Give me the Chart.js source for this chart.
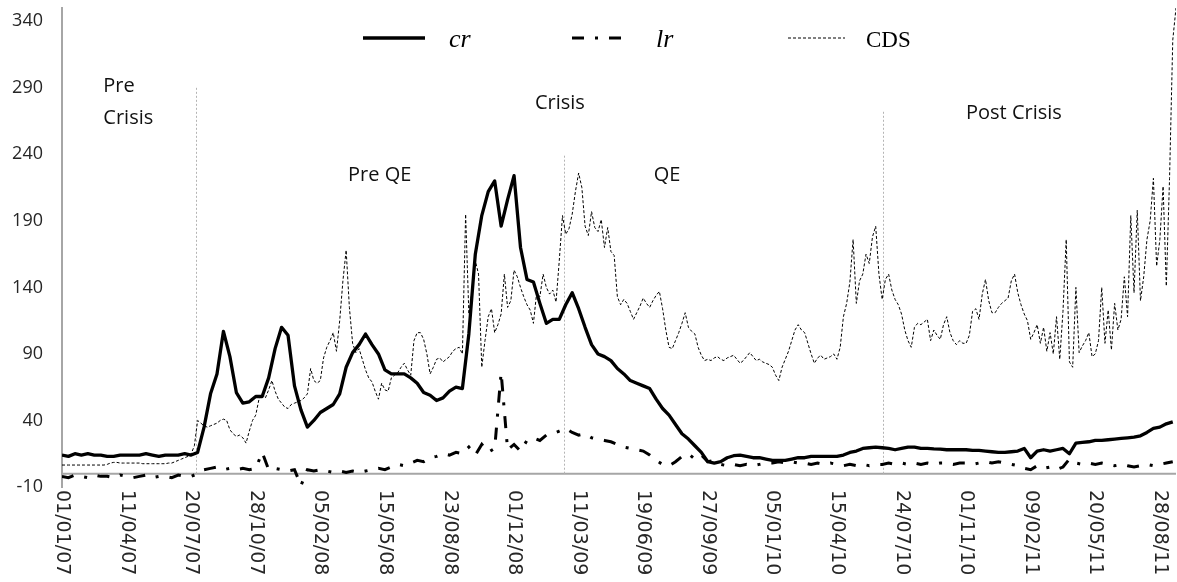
<!DOCTYPE html>
<html>
<head>
<meta charset="utf-8">
<script src="https://cdn.jsdelivr.net/npm/chart.js@4.4.0/dist/chart.umd.min.js"></script>
<style>
  body { margin: 0; background: #fff; }
  #wrap { width: 1177px; height: 582px; }
</style>
</head>
<body>
<div id="wrap"><canvas id="spreadChart" width="1177" height="582"></canvas></div>
<script>
// values, x = days after 01/01/07
const CR_STEP = 10;
const LR_STEP = 10;
const CDS_STEP = 5;

const crValues = [
  14,13,15,14,15,14,14,13,13,14,
  14,14,14,15,14,13,14,14,14,15,
  14,16,35,60,75,107,88,61,53,54,
  58,58,72,94,110,104,66,48,35,40,
  46,49,52,60,80,91,97,105,97,90,
  78,75,75,75,72,68,61,59,55,57,
  62,65,64,105,165,194,212,220,186,206,
  224,170,146,144,128,113,116,116,127,136,
  124,110,97,90,88,85,79,75,70,68,
  66,64,56,49,44,37,30,26,21,16,
  9,8,9,12,13.5,14,13,12,12,11,
  10,10,10,11,12,12,13,13,13,13,
  13,14,16,17,19,19.5,20,19.5,19,18,
  19,20,20,19,19,18.6,18.5,18,18,18,
  18,17.5,17.5,17,16.5,16,16,16.5,17,19,
  12,17,18,17,18,19,15,23,23.5,24,
  25,25,25.5,26,26.5,27,27.5,28.5,31,34,
  35,37.5,39
];

const lrValues = [
  -2,-3,-1,-2,-3,-1,-2,-2,-3,-1,
  -2,-3,-2,-1,-3,-2,-2,-3,-1,-2,
  -2,0,3,4,5,3,4,3,4,3,
  4,16,3,4,3,2,3,-9,3,2,
  3,2,1,2,1,2,1,2,3,4,
  3,5,7,6,8,10,9,12,13,15,
  14,16,15,20,14,22,16,19,76,18,
  22,17,25,27,25,29,30,32,34,31,
  29,30,27,26,25,24,22,20,19,18,
  17,14,10,7,6,9,13,15,11,14,
  9,10,7,6,7,6,7,6,7,8,
  8,9,8,9,8,8,7,8,7,8,
  7,6,7,6,7,6,7,7,8,7,
  8,7,8,7,8,7,8,8,7,8,
  8,7,8,9,8,9,8,7,6,4,
  3,6,4,5,3,5,11,8,7,8,
  7,8,7,6,7,6,5,6,7,6,
  7,8,9
];

const cdsValues = [
  6.5,6.5,6.5,6.5,6.5,6.5,6.5,6.5,6.5,6.5,6.5,6.5,6.5,6.5,7,8,8.5,8.5,8,8,
  8,8,8,8,8,7.5,7.5,7.5,7.5,7.5,7.5,7.5,7.5,8,8,9,10,11,12,13,
  15,21,40,38,36,35,36,37,38,40,41,40,33,30,28,29,27,23,32,40,
  44,56,60,57,63,70,62,56,53,50,49,52,53,54,55,57,60,79,70,68,
  70,87,95,100,106,92,115,145,168,125,98,91,94,86,78,72,69,62,56,68,
  63,62,72,74,76,80,83,78,74,100,106,106,101,90,75,80,86,87,84,86,
  88,92,94,95,90,195,120,137,160,150,80,100,118,124,106,112,120,150,125,130,
  153,148,140,133,127,123,113,136,133,150,140,135,138,129,160,194,180,184,195,212,
  226,215,186,179,197,185,182,191,170,185,167,164,133,127,131,128,122,116,121,126,
  132,128,125,130,134,137,124,108,95,94,100,106,113,121,110,107,105,95,89,85,
  86,85,87,88,86,85,87,88,89,86,83,85,88,91,88,85,86,84,83,82,
  80,74,70,80,86,92,100,108,112,108,106,98,90,83,87,89,86,87,88,90,
  86,95,118,128,144,176,128,145,150,165,158,178,186,150,131,146,150,138,131,127,
  120,108,100,95,110,113,112,114,116,100,108,104,101,112,118,106,100,97,100,98,
  98,104,122,124,116,135,146,130,121,121,125,128,130,132,145,150,136,127,120,115,
  101,106,112,98,110,92,106,90,118,86,122,176,84,80,140,91,96,100,106,88,
  90,100,140,98,123,93,128,108,116,148,118,194,136,198,130,148,176,190,222,156,
  176,216,141,222,326,350
];

const xTickLabels = [
  '01/01/07','11/04/07','20/07/07','28/10/07','05/02/08','15/05/08',
  '23/08/08','01/12/08','11/03/09','19/06/09','27/09/09','05/01/10',
  '15/04/10','24/07/10','01/11/10','09/02/11','20/05/11','28/08/11'
];
const yTickValues = [-10, 40, 90, 140, 190, 240, 290, 340];

// period split lines: day and top value
const periodBreakDays = [207, 777, 1271];
const periodBreakTops = [290, 239, 272];

const periodNotes = [
  { text: 'Pre', day: 64, value: 291, align: 'left' },
  { text: 'Crisis', day: 64, value: 267, align: 'left' },
  { text: 'Pre QE', day: 492, value: 224, align: 'center' },
  { text: 'Crisis', day: 771, value: 278.5, align: 'center' },
  { text: 'QE', day: 937, value: 224, align: 'center' },
  { text: 'Post Crisis', day: 1474, value: 271, align: 'center' }
];

function toPoints(values, step) {
  return values.map((v, i) => ({ x: i * step, y: v }));
}

const extras = {
  id: 'extras',
  beforeDatasetsDraw(chart) {
    const { ctx, chartArea } = chart;
    const xs = chart.scales.x, ys = chart.scales.y;
    const y0 = ys.getPixelForValue(0);
    ctx.save();
    // horizontal axis crosses at zero
    ctx.strokeStyle = '#a6a6a6';
    ctx.lineWidth = 2;
    ctx.beginPath();
    ctx.moveTo(chartArea.left, y0);
    ctx.lineTo(chartArea.right, y0);
    ctx.stroke();
    // dotted period lines
    ctx.strokeStyle = '#b4b4b4';
    ctx.lineWidth = 1;
    ctx.setLineDash([2, 2]);
    periodBreakDays.forEach((d, i) => {
      const px = Math.round(xs.getPixelForValue(d)) + 0.5;
      ctx.beginPath();
      ctx.moveTo(px, ys.getPixelForValue(periodBreakTops[i]));
      ctx.lineTo(px, y0);
      ctx.stroke();
    });
    ctx.restore();
  },
  afterDraw(chart) {
    const { ctx, chartArea } = chart;
    const xs = chart.scales.x, ys = chart.scales.y;
    ctx.save();

    // category labels, turned to read downwards
    ctx.font = '19px "DejaVu Sans"';
    ctx.fillStyle = '#262626';
    ctx.textAlign = 'left';
    ctx.textBaseline = 'middle';
    xs.ticks.forEach((t, i) => {
      ctx.save();
      ctx.translate(xs.getPixelForValue(t.value), chartArea.bottom + 3);
      ctx.rotate(Math.PI / 2);
      ctx.fillText(xTickLabels[i], 0, 0);
      ctx.restore();
    });

    // period names
    ctx.font = '20px "Open Sans"';
    ctx.fillStyle = '#111';
    ctx.textBaseline = 'middle';
    periodNotes.forEach(n => {
      ctx.textAlign = n.align;
      ctx.fillText(n.text, xs.getPixelForValue(n.day), ys.getPixelForValue(n.value));
    });

    // legend
    const legendPos = [
      { x1: 363, x2: 425, tx: 449, font: 'italic 26px "Liberation Serif"' },
      { x1: 572, x2: 622, tx: 656, font: 'italic 26px "Liberation Serif"' },
      { x1: 788, x2: 845, tx: 866, font: '23px "Liberation Serif"' }
    ];
    chart.data.datasets.forEach((ds, i) => {
      const p = legendPos[i];
      ctx.strokeStyle = ds.borderColor;
      ctx.lineWidth = ds.borderWidth;
      ctx.setLineDash(ds.borderDash || []);
      ctx.beginPath();
      ctx.moveTo(p.x1, 38);
      ctx.lineTo(p.x2, 38);
      ctx.stroke();
      ctx.setLineDash([]);
      ctx.font = p.font;
      ctx.fillStyle = '#000';
      ctx.textAlign = 'left';
      ctx.textBaseline = 'alphabetic';
      ctx.fillText(ds.label, p.tx, 46.5);
    });
    ctx.restore();
  }
};

new Chart(document.getElementById('spreadChart'), {
  type: 'line',
  data: {
    datasets: [
      {
        label: 'cr',
        data: toPoints(crValues, CR_STEP),
        borderColor: '#000',
        borderWidth: 3.3,
        borderJoinStyle: 'round',
        order: 3
      },
      {
        label: 'lr',
        data: toPoints(lrValues, LR_STEP),
        borderColor: '#000',
        borderWidth: 3,
        borderDash: [12, 11, 3, 11],
        order: 2
      },
      {
        label: 'CDS',
        data: toPoints(cdsValues, CDS_STEP),
        borderColor: '#000',
        borderWidth: 1,
        borderDash: [3, 2],
        order: 1
      }
    ]
  },
  options: {
    responsive: false,
    animation: false,
    layout: { padding: { top: 8, right: 1, left: 0, bottom: 0 } },
    elements: { point: { radius: 0 }, line: { tension: 0 } },
    plugins: { legend: { display: false }, tooltip: { enabled: false } },
    scales: {
      x: {
        type: 'linear',
        min: 0,
        max: 1725,
        afterBuildTicks: s => { s.ticks = xTickLabels.map((_, i) => ({ value: i * 100 })); },
        afterFit: s => { s.height = 95; s.paddingLeft = 0; s.paddingRight = 0; },
        grid: { display: false, drawTicks: false },
        border: { display: false },
        ticks: { display: false }
      },
      y: {
        min: -10,
        max: 350,
        afterBuildTicks: s => { s.ticks = yTickValues.map(v => ({ value: v })); },
        afterFit: s => { s.width = 62; s.paddingTop = 0; s.paddingBottom = 0; },
        grid: { display: false, drawTicks: false },
        border: { display: true, color: '#a6a6a6', width: 2 },
        ticks: {
          padding: 19,
          color: '#262626',
          font: { family: 'Open Sans', size: 18 },
          callback: v => v
        }
      }
    }
  },
  plugins: [extras]
});
</script>
</body>
</html>
